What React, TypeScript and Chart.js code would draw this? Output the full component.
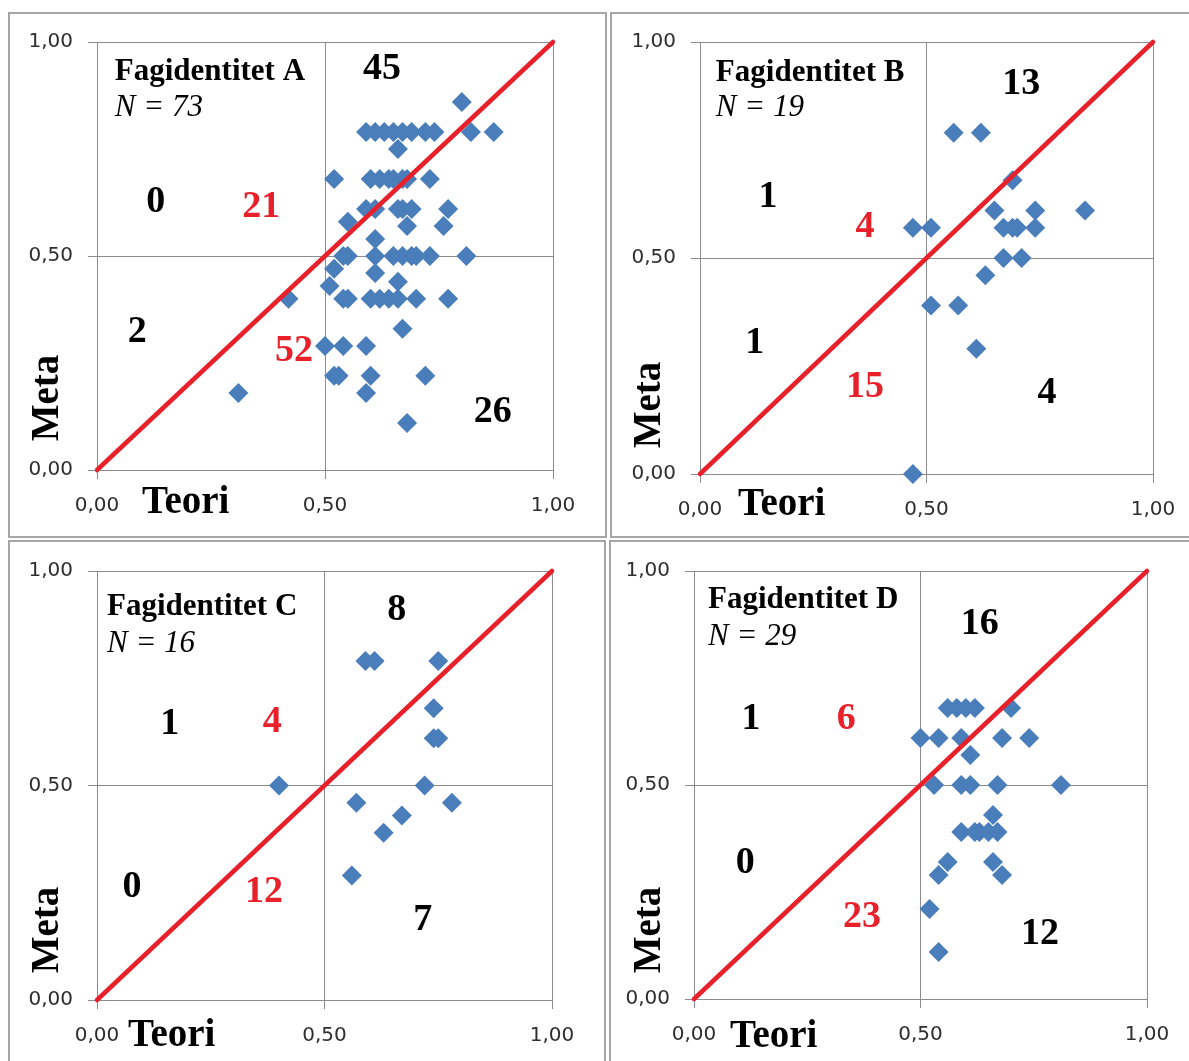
import React, { useEffect, useRef } from 'react';
import { Chart, registerables } from 'chart.js';

Chart.register(...registerables);

// ---------- data ----------
const tickValues = [0, 0.5, 1];
const tickLabels = ['0,00', '0,50', '1,00'];
const xAxisTitle = 'Teori';
const yAxisTitle = 'Meta';
const panelTitles = ['Fagidentitet A', 'Fagidentitet B', 'Fagidentitet C', 'Fagidentitet D'];
const nValues = [73, 19, 16, 29];
const diagonal = [0, 1];

// quadrant counts: top-right, upper-left outer, upper-left inner (red), lower-left outer, lower-left inner (red), bottom-right
const countsA = [45, 0, 21, 2, 52, 26];
const countsB = [13, 1, 4, 1, 15, 4];
const countsC = [8, 1, 4, 0, 12, 7];
const countsD = [16, 1, 6, 0, 23, 12];

const teoriA = [0.80, 0.59, 0.61, 0.63, 0.65, 0.67, 0.69, 0.72, 0.74, 0.82, 0.87, 0.66, 0.52, 0.60, 0.62, 0.64, 0.65, 0.67, 0.68, 0.73, 0.59, 0.61, 0.66, 0.67, 0.69, 0.77, 0.55, 0.68, 0.76, 0.54, 0.55, 0.61, 0.65, 0.67, 0.69, 0.70, 0.73, 0.81, 0.61, 0.52, 0.61, 0.51, 0.66, 0.42, 0.54, 0.55, 0.60, 0.62, 0.64, 0.66, 0.70, 0.77, 0.67, 0.50, 0.54, 0.59, 0.52, 0.53, 0.60, 0.72, 0.59, 0.68, 0.31];
const metaA = [0.86, 0.79, 0.79, 0.79, 0.79, 0.79, 0.79, 0.79, 0.79, 0.79, 0.79, 0.75, 0.68, 0.68, 0.68, 0.68, 0.68, 0.68, 0.68, 0.68, 0.61, 0.61, 0.61, 0.61, 0.61, 0.61, 0.58, 0.57, 0.57, 0.50, 0.50, 0.50, 0.50, 0.50, 0.50, 0.50, 0.50, 0.50, 0.54, 0.47, 0.46, 0.43, 0.44, 0.40, 0.40, 0.40, 0.40, 0.40, 0.40, 0.40, 0.40, 0.40, 0.33, 0.29, 0.29, 0.29, 0.22, 0.22, 0.22, 0.22, 0.18, 0.11, 0.18];

const teoriB = [0.56, 0.62, 0.69, 0.65, 0.74, 0.85, 0.47, 0.51, 0.67, 0.69, 0.70, 0.74, 0.67, 0.71, 0.63, 0.51, 0.57, 0.61, 0.47];
const metaB = [0.79, 0.79, 0.68, 0.61, 0.61, 0.61, 0.57, 0.57, 0.57, 0.57, 0.57, 0.57, 0.50, 0.50, 0.46, 0.39, 0.39, 0.29, 0.00];

const teoriC = [0.59, 0.61, 0.75, 0.74, 0.74, 0.75, 0.40, 0.72, 0.57, 0.78, 0.67, 0.63, 0.56];
const metaC = [0.79, 0.79, 0.79, 0.68, 0.61, 0.61, 0.50, 0.50, 0.46, 0.46, 0.43, 0.39, 0.29];

const teoriD = [0.56, 0.58, 0.60, 0.62, 0.70, 0.50, 0.54, 0.59, 0.68, 0.74, 0.61, 0.53, 0.59, 0.61, 0.67, 0.81, 0.66, 0.59, 0.62, 0.63, 0.65, 0.67, 0.56, 0.66, 0.54, 0.68, 0.52, 0.54];
const metaD = [0.68, 0.68, 0.68, 0.68, 0.68, 0.61, 0.61, 0.61, 0.61, 0.61, 0.57, 0.50, 0.50, 0.50, 0.50, 0.50, 0.43, 0.39, 0.39, 0.39, 0.39, 0.39, 0.32, 0.32, 0.29, 0.29, 0.21, 0.11];

// ---------- layout / style ----------
const GRID = '#8c8c8c';
const TICK_COLOR = '#2e2e2e';
const BLUE = '#4a7ebb';
const RED = '#e8202a';
const SERIF = "'Liberation Serif', 'Times New Roman', serif";
const SANS = "'DejaVu Sans', Verdana, sans-serif";
const countColors = ['#000', '#000', RED, '#000', RED, '#000'];

const panels = [
  {
    title: panelTitles[0], n: nValues[0], teori: teoriA, meta: metaA, counts: countsA,
    box: { left: 8, top: 12, width: 599, height: 526 },
    plot: { left: 87, right: 543, top: 28, bottom: 456 },
    countPos: [[0.625, 0.942], [0.129, 0.631], [0.360, 0.619], [0.088, 0.329], [0.432, 0.283], [0.868, 0.140]],
    titleX: 0.039, titleY: 0.935, nY: 0.853, teoriDx: 45, teoriDy: 30, metaDx: -49, metaDy: -72,
  },
  {
    title: panelTitles[1], n: nValues[1], teori: teoriB, meta: metaB, counts: countsB,
    box: { left: 610, top: 12, width: 590, height: 526 },
    plot: { left: 88, right: 541, top: 28, bottom: 460 },
    countPos: [[0.709, 0.907], [0.150, 0.646], [0.364, 0.576], [0.121, 0.308], [0.364, 0.206], [0.766, 0.192]],
    titleX: 0.035, titleY: 0.935, nY: 0.854, teoriDx: 38, teoriDy: 28, metaDx: -50, metaDy: -69,
  },
  {
    title: panelTitles[2], n: nValues[2], teori: teoriC, meta: metaC, counts: countsC,
    box: { left: 8, top: 540, width: 598, height: 530 },
    plot: { left: 87, right: 542, top: 29, bottom: 458 },
    countPos: [[0.659, 0.914], [0.160, 0.648], [0.385, 0.653], [0.077, 0.268], [0.367, 0.256], [0.716, 0.191]],
    titleX: 0.022, titleY: 0.921, nY: 0.837, teoriDx: 31, teoriDy: 33, metaDx: -49, metaDy: -70,
  },
  {
    title: panelTitles[3], n: nValues[3], teori: teoriD, meta: metaD, counts: countsD,
    box: { left: 609, top: 540, width: 590, height: 530 },
    plot: { left: 83, right: 536, top: 29, bottom: 457 },
    countPos: [[0.631, 0.881], [0.126, 0.659], [0.336, 0.659], [0.113, 0.322], [0.371, 0.196], [0.764, 0.157]],
    titleX: 0.031, titleY: 0.939, nY: 0.853, teoriDx: 36, teoriDy: 35, metaDx: -44, metaDy: -69,
  },
];

const BORDER = 2;
const TEXT_SHIFT = 2.5; // canvas 'middle' baseline sits slightly high for cap/digit text

function Panel({ p }: { p: any }) {
  const ref = useRef<HTMLCanvasElement>(null);
  const cw = p.box.width - BORDER * 2;
  const ch = p.box.height - BORDER * 2;

  useEffect(() => {
    const canvas = ref.current;
    if (!canvas) return;

    const textPlugin = {
      id: 'panelText',
      afterDraw(chart: any) {
        const ctx = chart.ctx;
        const xs = chart.scales.x;
        const ys = chart.scales.y;
        const area = chart.chartArea;
        ctx.save();
        // title
        ctx.textBaseline = 'middle';
        ctx.textAlign = 'left';
        ctx.fillStyle = '#000';
        ctx.font = `bold 31px ${SERIF}`;
        ctx.fillText(p.title, xs.getPixelForValue(p.titleX), ys.getPixelForValue(p.titleY) + TEXT_SHIFT);
        ctx.font = `italic 31px ${SERIF}`;
        ctx.fillText(`N = ${p.n}`, xs.getPixelForValue(p.titleX), ys.getPixelForValue(p.nY) + TEXT_SHIFT);
        // counts
        ctx.textAlign = 'center';
        ctx.font = `bold 38px ${SERIF}`;
        p.counts.forEach((c: number, i: number) => {
          ctx.fillStyle = countColors[i];
          const [fx, fy] = p.countPos[i];
          ctx.fillText(String(c), xs.getPixelForValue(fx), ys.getPixelForValue(fy) + TEXT_SHIFT);
        });
        // axis titles
        ctx.fillStyle = '#000';
        ctx.font = `bold 39px ${SERIF}`;
        ctx.textAlign = 'left';
        ctx.fillText(xAxisTitle, area.left + p.teoriDx, area.bottom + p.teoriDy + TEXT_SHIFT);
        ctx.translate(area.left + p.metaDx, area.bottom + p.metaDy);
        ctx.rotate(-Math.PI / 2);
        ctx.textAlign = 'center';
        ctx.fillText(yAxisTitle, 0, 0);
        ctx.restore();
      },
    };

    const axisCommon = {
      type: 'linear' as const,
      min: 0,
      max: 1,
      afterBuildTicks: (s: any) => {
        s.ticks = tickValues.map((v) => ({ value: v }));
      },
      grid: { color: GRID, lineWidth: 1, tickLength: 9, drawTicks: true },
      border: { color: GRID, width: 1 },
    };

    const chart = new Chart(canvas, {
      type: 'scatter',
      data: {
        datasets: [
          {
            data: diagonal.map((v) => ({ x: v, y: v })),
            showLine: true,
            borderColor: RED,
            backgroundColor: RED,
            borderWidth: 4.5,
            borderCapStyle: 'round',
            pointRadius: 0,
            clip: false,
          } as any,
          {
            data: p.teori.map((x: number, i: number) => ({ x, y: p.meta[i] })),
            pointStyle: 'rectRot',
            pointRadius: 10,
            backgroundColor: BLUE,
            borderColor: BLUE,
            borderWidth: 0,
            clip: false,
          } as any,
        ],
      },
      options: {
        responsive: false,
        animation: false,
        devicePixelRatio: 1,
        layout: {
          padding: { left: 0, top: p.plot.top, right: cw - p.plot.right, bottom: 0 },
        },
        plugins: { legend: { display: false }, tooltip: { enabled: false } },
        scales: {
          x: {
            ...axisCommon,
            ticks: {
              callback: (_v: any, i: number) => tickLabels[i],
              font: { family: SANS, size: 20 },
              color: TICK_COLOR,
              padding: 15,
              maxRotation: 0,
              autoSkip: false,
            },
            afterFit: (s: any) => {
              s.height = ch - p.plot.bottom;
            },
          },
          y: {
            ...axisCommon,
            ticks: {
              callback: (_v: any, i: number) => tickLabels[i],
              font: { family: SANS, size: 20 },
              color: TICK_COLOR,
              padding: 15,
              autoSkip: false,
            },
            afterFit: (s: any) => {
              s.width = p.plot.left;
            },
          },
        },
      } as any,
      plugins: [textPlugin],
    });
    return () => chart.destroy();
  }, []);

  return (
    <div
      style={{
        position: 'absolute',
        left: p.box.left,
        top: p.box.top,
        width: p.box.width - BORDER * 2,
        height: p.box.height - BORDER * 2,
        border: `${BORDER}px solid #a6a6a6`,
        background: '#fff',
      }}
    >
      <canvas ref={ref} width={cw} height={ch} style={{ display: 'block', width: cw, height: ch }} />
    </div>
  );
}

export default function App() {
  return (
    <div
      style={{
        position: 'absolute',
        left: 0,
        top: 0,
        width: 1189,
        height: 1061,
        overflow: 'hidden',
        background: '#fff',
      }}
    >
      {panels.map((p, i) => (
        <Panel key={i} p={p} />
      ))}
    </div>
  );
}
